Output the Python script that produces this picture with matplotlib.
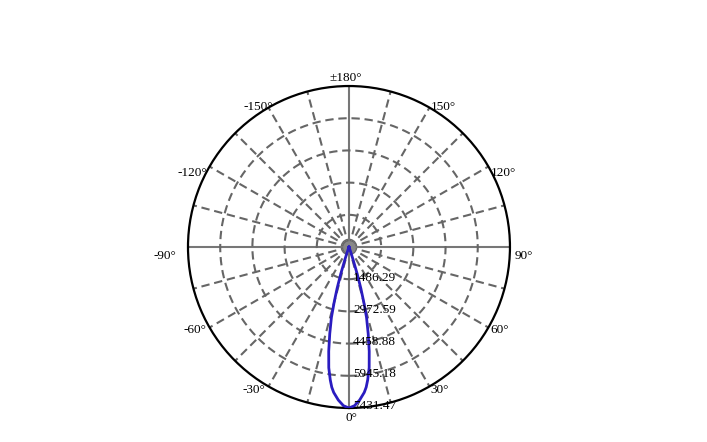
import numpy as np
import matplotlib
matplotlib.use("Agg")
import matplotlib.pyplot as plt
import matplotlib.transforms as mtransforms

# Data
angles_deg = [-180, -90, -30, -25, -22, -20, -19, -18, -17, -16, -15, -14, -12.5, -11, -9.5, -8, -7, -6, -4, -2,
              0, 2, 4, 6, 7, 8, 9.5, 11, 12.5, 14, 15, 16, 17, 18, 19, 20, 22, 25, 30, 90, 180]
intensity = [0, 0, 0, 10, 40, 100, 250, 600, 1300, 2000, 2650, 3350, 4100, 4900, 5650, 6200, 6520, 6750, 7080, 7330,
             7431.47, 7330, 7080, 6750, 6520, 6200, 5650, 4900, 4100, 3350, 2650, 2000, 1300, 600, 250, 100, 40, 10, 0, 0, 0]
r_ticks = [1486.29, 2972.59, 4458.88, 5945.18, 7431.47]
r_max = 7431.47
theta_label_pos = [0, 30, 60, 90, 120, 150, 180, 210, 240, 270, 300, 330]
theta_labels = ["0°", "30°", "60°", "90°", "120°", "150°", "±180°", "-150°", "-120°", "-90°", "-60°", "-30°"]
# label placement style: (ha, dx px, dy px downwards)
label_style = [("center", 2.7, 9.7), ("left", 0.5, 3.6), ("left", 1.6, 2.5), ("left", 5, 9),
               ("left", 2.6, 6.2), ("left", 1.5, -0.9), ("center", -3, -7.7), ("right", 4.2, -0.9),
               ("right", -2.9, 6.2), ("right", -11.3, 9), ("right", -2.9, 2.5), ("right", -3.5, 3.6)]

plt.rcParams['font.family'] = ['Liberation Serif', 'DejaVu Serif']

fig = plt.figure(figsize=(7.07, 4.42), dpi=100)
ax = fig.add_axes([0.2659, 0.0769, 0.4554, 0.7285], projection='polar')
ax.set_theta_zero_location('S')
ax.set_theta_direction(1)
ax.set_ylim(0, r_max)

grid_color = '#666666'
ax.grid(False)
for a in range(0, 360, 15):
    if a % 90 == 0:
        ax.plot([np.deg2rad(a), np.deg2rad(a)], [0, r_max], color='#777777', lw=1.5, ls='-', zorder=1)
    else:
        ax.plot([np.deg2rad(a), np.deg2rad(a)], [0, r_max], color=grid_color, lw=1.5, ls=(0, (4, 2.3)), zorder=1)
th = np.linspace(0, 2 * np.pi, 400)
for r in r_ticks[:-1]:
    ax.plot(th, np.full_like(th, r), color=grid_color, lw=1.5, ls=(0, (4, 2.3)), zorder=1)
ax.plot([0], [0], 'o', color='#888888', ms=8, zorder=2)

ax.set_xticks(np.deg2rad(theta_label_pos))
ax.set_xticklabels([])
ax.set_yticks([])
ax.spines['polar'].set_color('black')
ax.spines['polar'].set_linewidth(1.6)

for pos, lab, (ha, dx, dy) in zip(theta_label_pos, theta_labels, label_style):
    tr = mtransforms.offset_copy(ax.transData, fig=fig, x=dx, y=-dy, units='dots')
    ax.text(np.deg2rad(pos), r_max, lab, transform=tr, ha=ha, va='center', fontsize=9.5, clip_on=False)

for r in r_ticks:
    tr = mtransforms.offset_copy(ax.transData, fig=fig, x=4, y=1.5, units='dots')
    ax.text(0, r, f"{r:.2f}", transform=tr, ha='left', va='center', fontsize=9.5, zorder=4, clip_on=False)

ax.plot(np.deg2rad(angles_deg), intensity, color='#2a1cc0', lw=2, zorder=3)

fig.savefig('out.png', dpi=100)
